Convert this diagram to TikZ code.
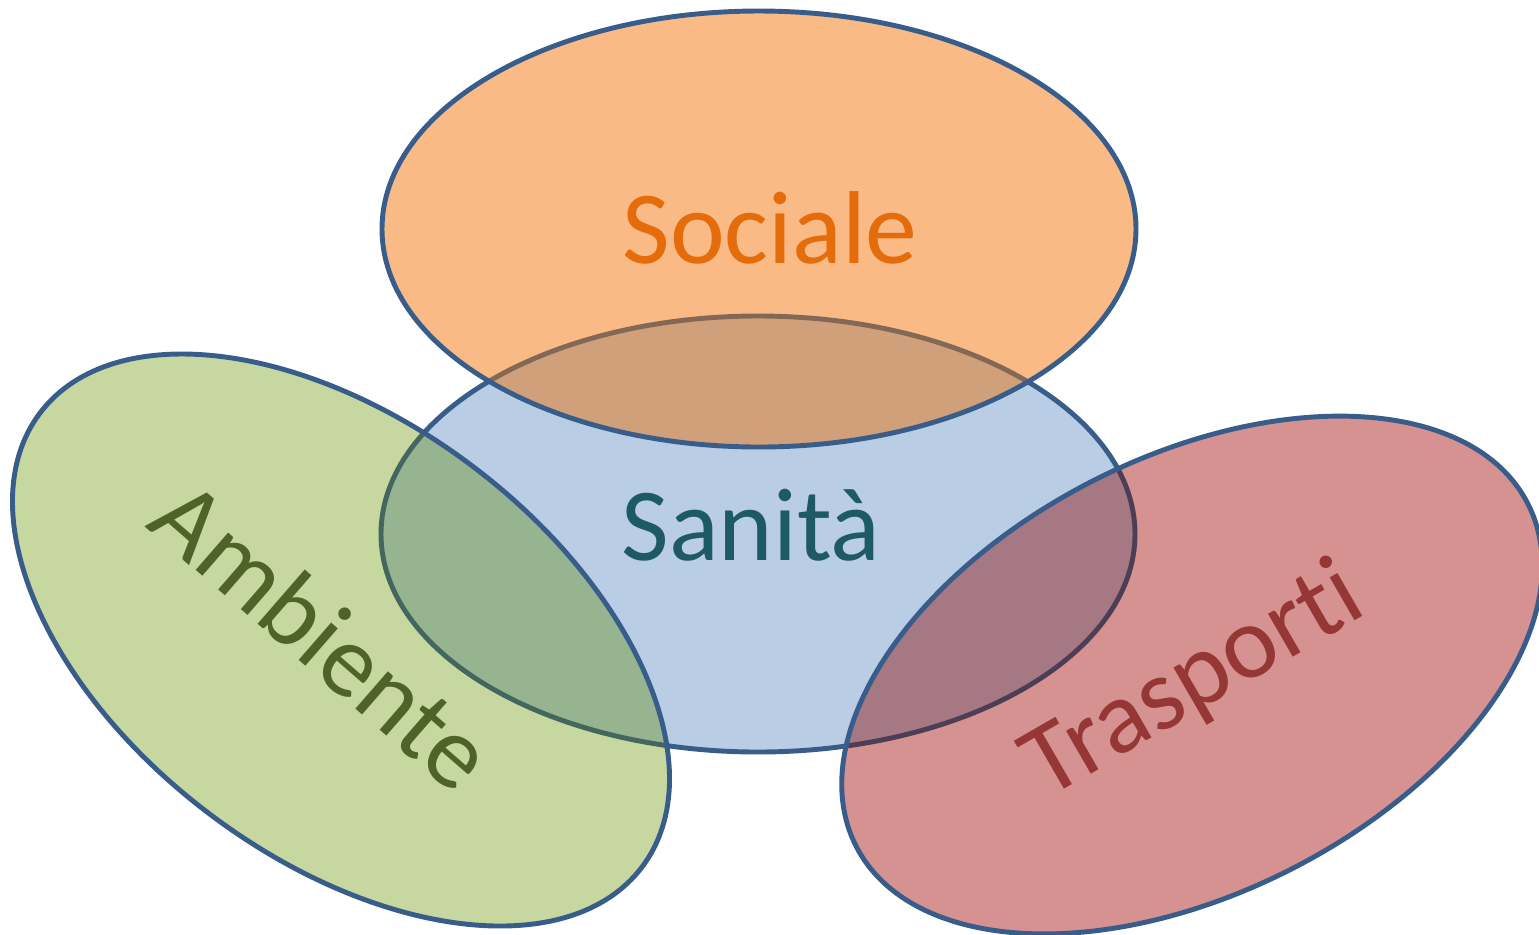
\documentclass[tikz,border=0pt]{standalone}
\usepackage{fontspec}
\setmainfont{Carlito}[Ligatures=NoCommon]

\definecolor{rimblue}{HTML}{385D8A}
\definecolor{setblue}{RGB}{185,205,229}
% strong tint (normal layer) and soft tint (multiply layer) of each set
\definecolor{hardorange}{RGB}{247,150,70}
\definecolor{softorange}{RGB}{252,210,177}
\definecolor{hardgreen}{RGB}{155,187,89}
\definecolor{softgreen}{RGB}{209,223,178}
\definecolor{hardred}{RGB}{192,80,77}
\definecolor{softred}{RGB}{220,163,163}
\definecolor{txtorange}{HTML}{E46C0A}
\definecolor{txtteal}{HTML}{1E5A66}
\definecolor{txtgreen}{HTML}{4F6228}
\definecolor{txtred}{HTML}{953735}

\begin{document}
\begin{tikzpicture}[
    rim/.style={draw=rimblue, line width=1.4pt},
    word/.style={font=\fontsize{29.5}{35}\selectfont, inner sep=0pt}
  ]
  \def\ra{3.77}
  \def\rb{2.18}

  % Fixed bounding box
  \path[use as bounding box] (0,0) rectangle (15.39,-9.34);

  % Centres of the four sets
  \coordinate (sanC) at (7.58,-5.34);
  \coordinate (socC) at (7.59,-2.29);
  \coordinate (ambC) at (3.41,-6.40);
  \coordinate (traC) at (11.92,-6.75);

  % Sanita, bottom layer
  \fill[setblue] (sanC) ellipse (\ra cm and \rb cm);
  \draw[rim] (sanC) ellipse (\ra cm and \rb cm);

  % Sociale, Ambiente, Trasporti on top
  \foreach \c/\soft/\hard/\op/\rot in {socC/softorange/hardorange/0.4/0,
                                      ambC/softgreen/hardgreen/0.2/-37,
                                      traC/softred/hardred/0.2/27} {
    \fill[shift={(\c)}, rotate=\rot, \soft, blend mode=multiply] (0,0) ellipse (\ra cm and \rb cm);
    \fill[shift={(\c)}, rotate=\rot, \hard, fill opacity=\op] (0,0) ellipse (\ra cm and \rb cm);
    \draw[shift={(\c)}, rotate=\rot, rim] (0,0) ellipse (\ra cm and \rb cm);
  }

  % Labels
  \node[word, text=txtorange, anchor=base] (soc) at (7.70,-2.63) {Sociale};
  \node[word, text=txtteal, anchor=base] (san) at (7.51,-5.60) {Sanità};
  \node[word, text=txtgreen, anchor=base, rotate=-41] (amb) at (3.00,-6.61) {Ambiente};
  \node[word, text=txtred, anchor=base, rotate=30] (tra) at (12.08,-7.06) {Trasporti};

\end{tikzpicture}
\end{document}
